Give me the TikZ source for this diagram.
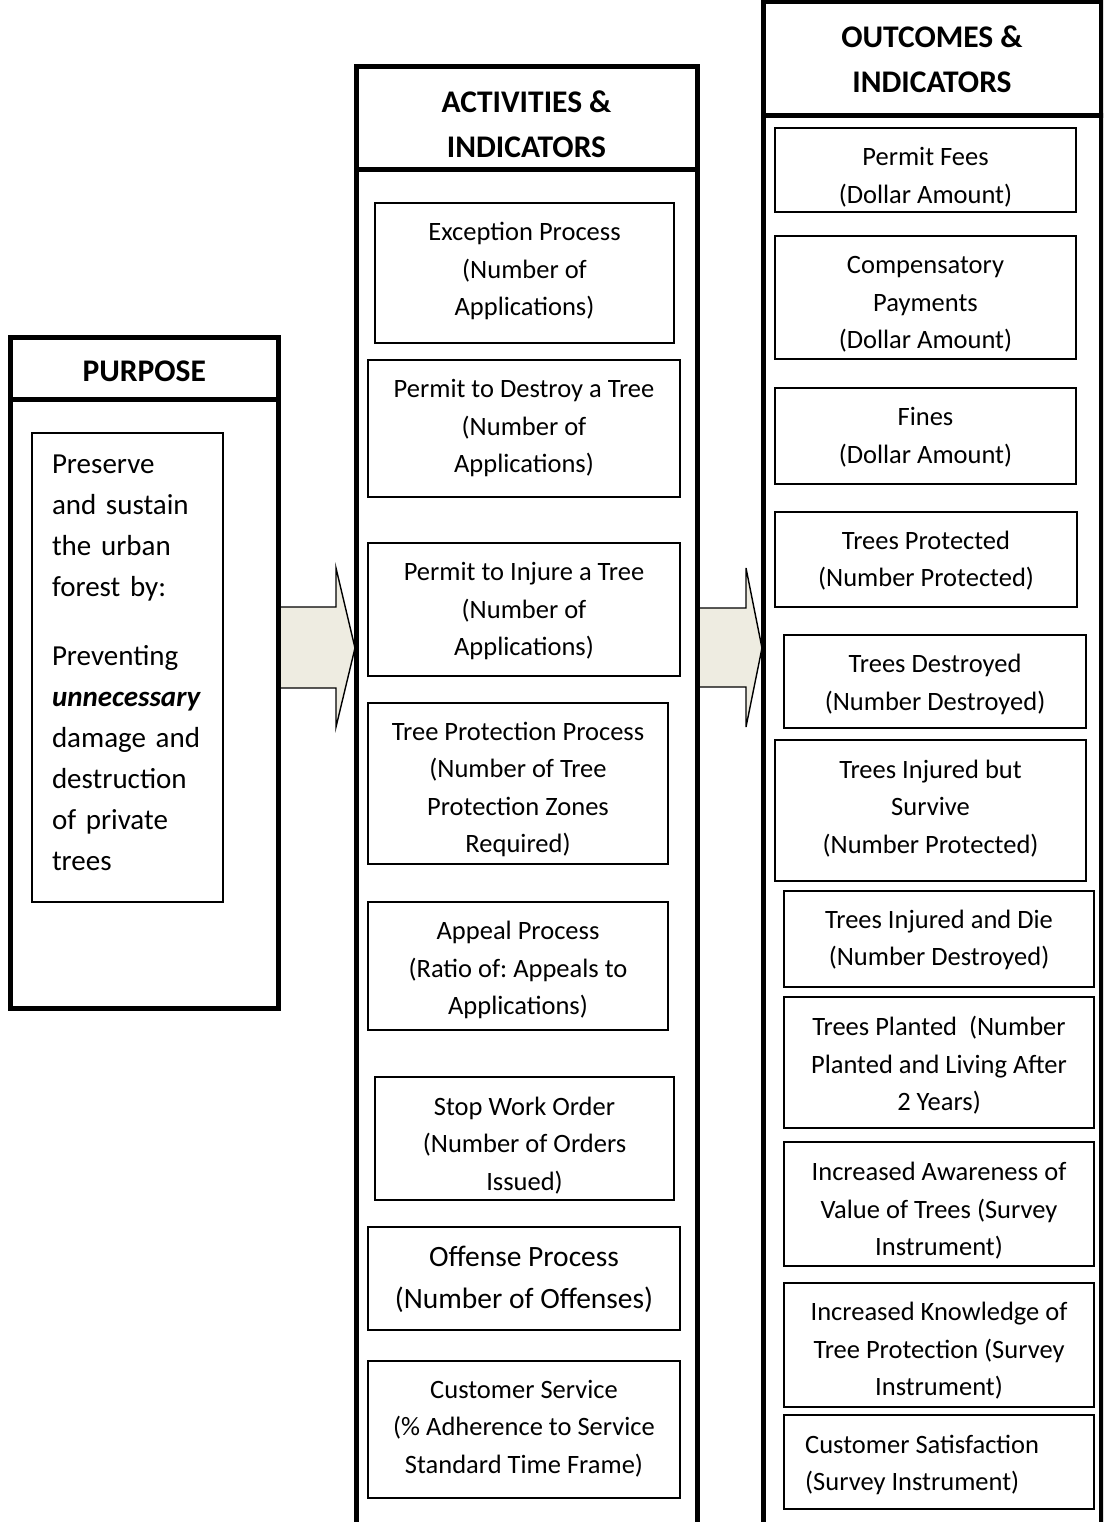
\documentclass[tikz,border=0pt]{standalone}
\usepackage{fontspec}
\setmainfont{Carlito}
\frenchspacing
\definecolor{arrowfill}{HTML}{EEECE1}
\tikzset{
  colbox/.style={draw, line width=5pt, inner sep=0pt},
  thinbox/.style={draw, line width=1.6pt, inner sep=0pt},
  itext/.style={inner sep=0pt, align=center, font=\fontsize{26.5}{37.5}\selectfont},
  hdr/.style={font=\bfseries\fontsize{31.5}{45}\selectfont, align=center},
  bigarrow/.style={fill=arrowfill, draw, line width=1.4pt, line join=miter},
}
% name, x1, y1, x2, y2, text options, text shift, text
\newcommand\mybox[8]{%
  \node[thinbox, minimum width={(#4-#2)*1pt}, minimum height={(#5-#3)*1pt}]
    (#1) at ({(#2+#4)/2},{(#3+#5)/2}) {};
  \node[itext, #6] (#1t) at ({(#2+#4)/2},{(#3+#5)/2+#7}) {#8};}
\begin{document}
\begin{tikzpicture}[x=1pt, y=-1pt]
\useasboundingbox (0,0) rectangle (1103,1522);
\clip (0,0) rectangle (1103,1522);
\fill[white] (0,0) rectangle (1103,1522);

% arrows
\draw[bigarrow] (279,607) -- (336,607) -- (336,568) -- (355,648) -- (336,727) -- (336,688) -- (279,688) -- cycle;
\draw[bigarrow] (697,608) -- (746,608) -- (746,568) -- (762,648) -- (746,727) -- (746,687) -- (697,687) -- cycle;

% PURPOSE column
\node[colbox, minimum width=267.5pt, minimum height=62pt] (purhead) at (144.25,368) {};
\node[hdr] (purheadt) at (144.25,371) {PURPOSE};
\node[colbox, minimum width=267.5pt, minimum height=609pt] (purbody) at (144.25,703.5) {};
\node[thinbox, minimum width=191pt, minimum height=469pt] (purbox) at (127.5,667.5) {};
\node[inner sep=0pt, text width=151pt, align=left, font=\fontsize{29}{41}\selectfont]
  (purtext) at (127.5,663) {Preserve\\and sustain\\the urban\\forest by:\\[28pt]Preventing\\\textbf{\textit{unnecessary}}\\damage and\\destruction\\of private\\trees};

% ACTIVITIES column
\node[colbox, minimum width=341pt, minimum height=103pt] (acthead) at (526.5,118.5) {};
\node[hdr] (actheadt) at (526.5,124.5) {ACTIVITIES \&\\INDICATORS};
\node[colbox, minimum width=341pt, minimum height=1410pt] (actbody) at (526.5,875) {};
\mybox{a1}{375}{203}{674}{343}{}{-2}{Exception Process\\(Number of\\Applications)}
\mybox{a2}{368}{360}{680}{497}{}{0}{Permit to Destroy a Tree\\(Number of\\Applications)}
\mybox{a3}{368}{543}{680}{676}{}{2}{Permit to Injure a Tree\\(Number of\\Applications)}
\mybox{a4}{368}{703}{668}{864}{}{6}{Tree Protection Process\\(Number of Tree\\Protection Zones\\Required)}
\mybox{a5}{368}{902}{668}{1030}{}{4}{Appeal Process\\(Ratio of: Appeals to\\Applications)}
\mybox{a6}{375}{1077}{674}{1200}{}{7}{Stop Work Order\\(Number of Orders\\Issued)}
\mybox{a7}{368}{1227}{680}{1330}{font=\fontsize{29.5}{42}\selectfont}{1}{Offense Process\\(Number of Offenses)}
\mybox{a8}{368}{1361}{680}{1498}{}{-1}{Customer Service\\(\% Adherence to Service\\Standard Time Frame)}

% OUTCOMES column
\node[colbox, minimum width=338pt, minimum height=114pt] (outhead) at (932,59) {};
\node[hdr] (outheadt) at (932,59.5) {OUTCOMES \&\\INDICATORS};
\node[colbox, minimum width=338pt, minimum height=1464pt] (outbody) at (932,848) {};
\mybox{o1}{775}{128}{1076}{212}{}{7}{Permit Fees\\(Dollar Amount)}
\mybox{o2}{775}{236}{1076}{359}{}{7}{Compensatory\\Payments\\(Dollar Amount)}
\mybox{o3}{775}{388}{1076}{484}{}{1}{Fines\\(Dollar Amount)}
\mybox{o4}{775}{512}{1077}{607}{}{1}{Trees Protected\\(Number Protected)}
\mybox{o5}{784}{635}{1086}{728}{}{3}{Trees Destroyed\\(Number Destroyed)}
\mybox{o6}{775}{740}{1086}{881}{}{-2}{Trees Injured but\\Survive\\(Number Protected)}
\mybox{o7}{784}{891}{1094}{987}{}{1}{Trees Injured and Die\\(Number Destroyed)}
\mybox{o8}{784}{997}{1094}{1128}{}{3}{Trees Planted\ \ (Number\\Planted and Living After\\2 Years)}
\mybox{o9}{784}{1142}{1094}{1266}{}{7}{Increased Awareness of\\Value of Trees (Survey\\Instrument)}
\mybox{o10}{784}{1283}{1094}{1407}{}{6}{Increased Knowledge of\\Tree Protection (Survey\\Instrument)}
\node[thinbox, minimum width=310pt, minimum height=94pt] (o11) at (939,1462) {};
\node[itext, align=left, anchor=west] (o11t) at (805,1465) {Customer Satisfaction\\(Survey Instrument)};
\end{tikzpicture}
\end{document}
